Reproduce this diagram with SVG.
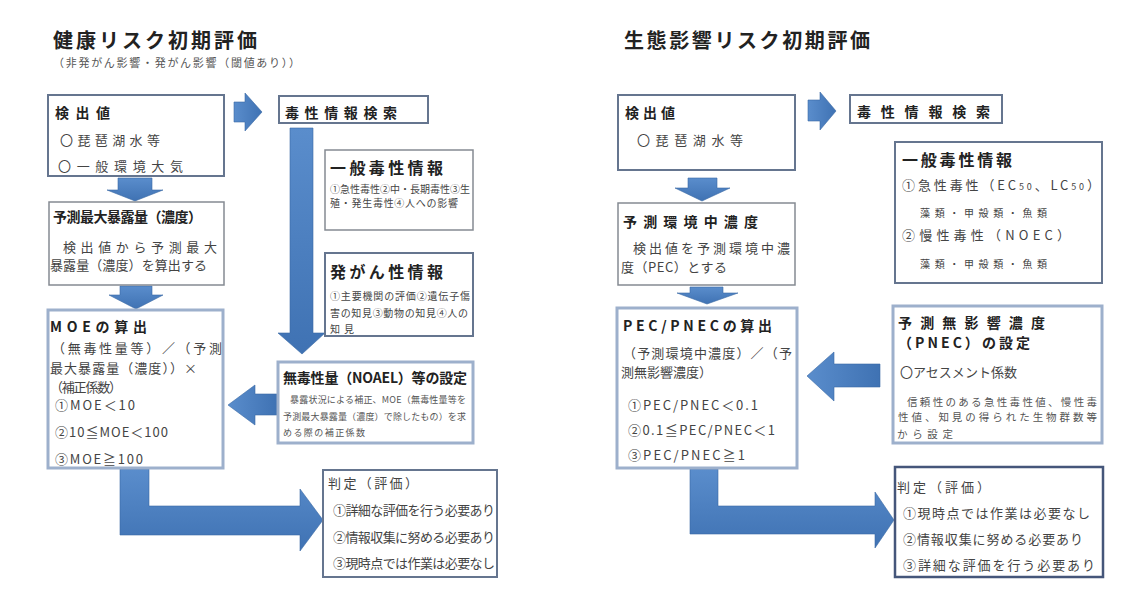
<svg xmlns="http://www.w3.org/2000/svg" width="1130" height="591" viewBox="0 0 1130 591">
<defs>
<linearGradient id="ag" x1="0" y1="0" x2="0" y2="1">
<stop offset="0" stop-color="#5a8dcc"/>
<stop offset="1" stop-color="#3f72b3"/>
</linearGradient>
<linearGradient id="agh" x1="0" y1="0" x2="1" y2="0">
<stop offset="0" stop-color="#5a8dcc"/>
<stop offset="1" stop-color="#3f72b3"/>
</linearGradient>
</defs>
<style>
text{font-family:"Noto Sans CJK JP","Noto Sans",sans-serif;fill:#2a2a2a;}
.t{font-size:20px;font-weight:700;fill:#222;}
.s{font-size:11px;fill:#555;}
.h{font-size:14px;font-weight:700;fill:#222;}
.h2{font-size:16px;font-weight:700;fill:#222;}
.n{font-size:13px;fill:#444;}
.m{font-size:10px;fill:#444;}
.x{font-size:9px;fill:#555;}
.y{font-size:10.5px;fill:#555;}
rect{fill:#fff;}
.b1{stroke:#65758f;stroke-width:2;}
.b2{stroke:#858a92;stroke-width:1.5;}
.b3{stroke:#9db0cc;stroke-width:3;}
.b4{stroke:#45567a;stroke-width:2.5;}
.ar{fill:url(#ag);stroke:#3a69a5;stroke-width:0.6;}
.arh{fill:url(#agh);stroke:#3a69a5;stroke-width:0.6;}
</style>
<rect x="0" y="0" width="1130" height="591" fill="#fff"/>

<g id="titles">
<text class="t" x="53" y="48" textLength="204" lengthAdjust="spacing">健康リスク初期評価</text>
<text class="s" x="53" y="67" textLength="247" lengthAdjust="spacing">（非発がん影響・発がん影響（閾値あり））</text>
<text class="t" x="624" y="48" textLength="246" lengthAdjust="spacing">生態影響リスク初期評価</text>
</g>

<g id="connectors">
<path class="arh" d="M234,102 H245 V93 L262,112 L245,131 V122 H234 Z"/>
<path class="ar" d="M118,178 H152 V190 H163 L135,201 L107,190 H118 Z"/>
<path class="ar" d="M120,286 H152 V295 H163 L136,309 L109,295 H120 Z"/>
<path class="ar" d="M290,128 H313 V333 H325 L302,354 L278,333 H290 Z"/>
<path class="arh" d="M277,394 H255 V385 L228,405 L255,425 V415 H277 Z"/>
<path class="ar" d="M120,469 H149 V506 H300 V489 L323,520 L300,551 V535 H120 Z"/>
<path class="arh" d="M808,100 H820 V92 L836,111 L820,130 V121 H808 Z"/>
<path class="ar" d="M688,178 H717 V188 H730 L702,201 L675,188 H688 Z"/>
<path class="ar" d="M690,287 H723 V293 H738 L707,304 L677,293 H690 Z"/>
<path class="arh" d="M880,364 H834 V352 L807,376 L834,401 V387 H880 Z"/>
<path class="ar" d="M690,469 H718 V506 H875 V492 L894,520 L875,548 V534 H690 Z"/>
</g>

<g id="l-detect">
<rect class="b1" x="48" y="95" width="176" height="81"/>
<text class="h" x="55" y="118" textLength="55" lengthAdjust="spacing">検出値</text>
<text class="n" x="60" y="145" textLength="100" lengthAdjust="spacing">〇琵琶湖水等</text>
<text class="n" x="58" y="171" textLength="125" lengthAdjust="spacing">〇一般環境大気</text>
</g>

<g id="l-exposure">
<rect class="b2" x="49" y="202" width="175" height="83"/>
<text class="h" x="53" y="222" font-size="13" textLength="149" lengthAdjust="spacing">予測最大暴露量（濃度）</text>
<text class="n" x="63" y="252" textLength="154" lengthAdjust="spacing">検出値から予測最大</text>
<text class="n" x="50" y="270" textLength="157" lengthAdjust="spacing">暴露量（濃度）を算出する</text>
</g>

<g id="l-moe">
<rect class="b3" x="48" y="310" width="175" height="158"/>
<text class="h" x="50" y="332" font-size="15" textLength="97" lengthAdjust="spacing">MOEの算出</text>
<text class="n" x="52" y="353" textLength="170" lengthAdjust="spacing">（無毒性量等）／（予測</text>
<text class="n" x="50" y="373" textLength="147" lengthAdjust="spacing">最大暴露量（濃度））×</text>
<text class="n" x="50" y="392" font-size="12" textLength="72" lengthAdjust="spacing">（補正係数）</text>
<text class="n" x="55" y="410" textLength="80" lengthAdjust="spacing">①MOE＜10</text>
<text class="n" x="55" y="437" textLength="113" lengthAdjust="spacing">②10≦MOE＜100</text>
<text class="n" x="55" y="464" textLength="88" lengthAdjust="spacing">③MOE≧100</text>
</g>

<g id="l-search">
<rect class="b1" x="279" y="96" width="149" height="27"/>
<text class="h" x="285" y="118" textLength="112" lengthAdjust="spacing">毒性情報検索</text>
</g>

<g id="l-general">
<rect class="b2" x="325" y="150" width="148" height="80"/>
<text class="h2" x="330" y="174" textLength="113" lengthAdjust="spacing">一般毒性情報</text>
<text class="m" x="330" y="193" textLength="140" lengthAdjust="spacing">①急性毒性②中・長期毒性③生</text>
<text class="m" x="330" y="207" textLength="128" lengthAdjust="spacing">殖・発生毒性④人への影響</text>
</g>

<g id="l-carcino">
<rect class="b1" x="325" y="253" width="148" height="83"/>
<text class="h2" x="330" y="278" textLength="113" lengthAdjust="spacing">発がん性情報</text>
<text class="m" x="330" y="300" textLength="140" lengthAdjust="spacing">①主要機関の評価②遺伝子傷</text>
<text class="m" x="330" y="317" textLength="138" lengthAdjust="spacing">害の知見③動物の知見④人の</text>
<text class="m" x="330" y="333" textLength="24" lengthAdjust="spacing">知見</text>
</g>

<g id="l-noael">
<rect class="b3" x="278" y="362" width="195" height="81"/>
<text class="h" x="283" y="383" font-size="15" textLength="184" lengthAdjust="spacing">無毒性量（NOAEL）等の設定</text>
<text class="x" x="290" y="403" textLength="176" lengthAdjust="spacing">暴露状況による補正、MOE（無毒性量等を</text>
<text class="x" x="283" y="420" textLength="183" lengthAdjust="spacing">予測最大暴露量（濃度）で除したもの）を求</text>
<text class="x" x="283" y="436" textLength="82" lengthAdjust="spacing">める際の補正係数</text>
</g>

<g id="l-judge">
<rect class="b1" x="323" y="470" width="174" height="107"/>
<text class="n" x="328" y="488" textLength="90" lengthAdjust="spacing">判定（評価）</text>
<text class="n" x="333" y="515" textLength="162" lengthAdjust="spacing">①詳細な評価を行う必要あり</text>
<text class="n" x="333" y="542" textLength="162" lengthAdjust="spacing">②情報収集に努める必要あり</text>
<text class="n" x="333" y="568" textLength="162" lengthAdjust="spacing">③現時点では作業は必要なし</text>
</g>

<g id="r-detect">
<rect class="b1" x="618" y="95" width="177" height="75"/>
<text class="h" x="625" y="118" textLength="50" lengthAdjust="spacing">検出値</text>
<text class="n" x="637" y="145" textLength="106" lengthAdjust="spacing">〇琵琶湖水等</text>
</g>

<g id="r-pec">
<rect class="b2" x="618" y="203" width="177" height="82"/>
<text class="h" x="623" y="227" textLength="135" lengthAdjust="spacing">予測環境中濃度</text>
<text class="n" x="633" y="253" textLength="157" lengthAdjust="spacing">検出値を予測環境中濃</text>
<text class="n" x="621" y="272" textLength="106" lengthAdjust="spacing">度（PEC）とする</text>
</g>

<g id="r-ratio">
<rect class="b3" x="617" y="308" width="180" height="160"/>
<text class="h" x="623" y="331" font-size="15" textLength="149" lengthAdjust="spacing">PEC/PNECの算出</text>
<text class="n" x="623" y="358" textLength="169" lengthAdjust="spacing">（予測環境中濃度）／（予</text>
<text class="n" x="621" y="377" textLength="91" lengthAdjust="spacing">測無影響濃度）</text>
<text class="n" x="628" y="410" textLength="130" lengthAdjust="spacing">①PEC/PNEC＜0.1</text>
<text class="n" x="628" y="435" textLength="147" lengthAdjust="spacing">②0.1≦PEC/PNEC＜1</text>
<text class="n" x="628" y="460" textLength="117" lengthAdjust="spacing">③PEC/PNEC≧1</text>
</g>

<g id="r-search">
<rect class="b1" x="850" y="95" width="152" height="28"/>
<text class="h" x="857" y="117" textLength="133" lengthAdjust="spacing">毒性情報検索</text>
</g>

<g id="r-general">
<rect class="b1" x="895" y="142" width="207" height="141"/>
<text class="h2" x="902" y="166" textLength="110" lengthAdjust="spacing">一般毒性情報</text>
<text class="n" x="902" y="190" font-size="14" textLength="198" lengthAdjust="spacing">①急性毒性（EC<tspan font-size="9">50</tspan>、LC<tspan font-size="9">50</tspan>）</text>
<text class="m" x="920" y="217" font-size="11" textLength="127" lengthAdjust="spacing">藻類・甲殻類・魚類</text>
<text class="n" x="902" y="240" font-size="14" textLength="168" lengthAdjust="spacing">②慢性毒性（NOEC）</text>
<text class="m" x="920" y="268" font-size="11" textLength="127" lengthAdjust="spacing">藻類・甲殻類・魚類</text>
</g>

<g id="r-pnec">
<rect class="b3" x="893" y="306" width="209" height="137"/>
<text class="h" x="898" y="328" font-size="15" textLength="147" lengthAdjust="spacing">予測無影響濃度</text>
<text class="h" x="898" y="348" font-size="15" textLength="132" lengthAdjust="spacing">（PNEC）の設定</text>
<text class="n" x="900" y="377" textLength="117" lengthAdjust="spacing">〇アセスメント係数</text>
<text class="y" x="907" y="406" textLength="190" lengthAdjust="spacing">信頼性のある急性毒性値、慢性毒</text>
<text class="y" x="898" y="421" textLength="199" lengthAdjust="spacing">性値、知見の得られた生物群数等</text>
<text class="y" x="897" y="438" textLength="56" lengthAdjust="spacing">から設定</text>
</g>

<g id="r-judge">
<rect class="b4" x="895" y="467" width="208" height="110"/>
<text class="n" x="897" y="492" textLength="93" lengthAdjust="spacing">判定（評価）</text>
<text class="n" x="903" y="518" textLength="187" lengthAdjust="spacing">①現時点では作業は必要なし</text>
<text class="n" x="903" y="544" textLength="180" lengthAdjust="spacing">②情報収集に努める必要あり</text>
<text class="n" x="903" y="570" textLength="192" lengthAdjust="spacing">③詳細な評価を行う必要あり</text>
</g>
</svg>
